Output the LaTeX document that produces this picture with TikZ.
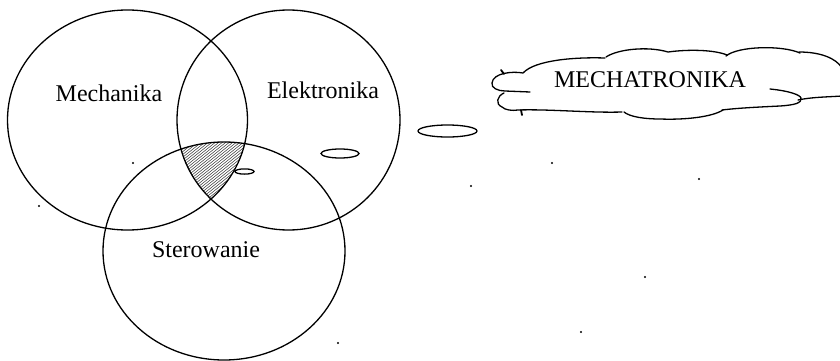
\documentclass[tikz,border=0pt]{standalone}
\usepackage{fontspec}
\setmainfont{Liberation Serif}
\tikzset{
  venn/.style={draw=black, line width=1.3pt},
  bubble/.style={draw=black, line width=1.3pt},
  cloudline/.style={draw=black, line width=1.3pt, line cap=round},
  label/.style={font=\fontsize{24}{28}\selectfont, inner sep=0pt},
  hatch/.style={draw=black!75, line width=0.55pt},
  speck/.style={fill=black}
}
\begin{document}
\begin{tikzpicture}[x=1pt,y=-1pt]
\useasboundingbox (0,0) rectangle (840,361);
% Venn ellipses
\coordinate (cM) at (127.5,120);
\coordinate (cE) at (288.5,120);
\coordinate (cS) at (224,251);
% hatched common part
\begin{scope}
  \clip (cM) ellipse [x radius=120, y radius=110];
  \clip (cE) ellipse [x radius=111.5, y radius=110];
  \clip (cS) ellipse [x radius=121, y radius=109];
  \foreach \i in {100,103.5,...,300} {
    \draw[hatch] (\i,215) -- ++(100,-80);
  }
\end{scope}
\draw[venn] (cM) ellipse [x radius=120, y radius=110];
\draw[venn] (cE) ellipse [x radius=111.5, y radius=110];
\draw[venn] (cS) ellipse [x radius=121, y radius=109];
% labels
\node[label] (mech) at (109,93) {Mechanika};
\node[label] (elek) at (323,90) {Elektronika};
\node[label] (ster) at (206,250) {Sterowanie};
% thought bubbles
\draw[bubble] (244.5,171.5) ellipse [x radius=9.5, y radius=2.6];
\draw[bubble] (340,153.5) ellipse [x radius=19, y radius=4.5];
\draw[bubble] (447.5,131) ellipse [x radius=29.5, y radius=6];
% cloud
\node[label] (mecha) at (650,80) {MECHATRONIKA};
\draw[cloudline] (605,58) .. controls (575,57) and (535,60) .. (523,73)
  .. controls (512,71) and (493,73) .. (492,83)
  .. controls (491,88) and (498,91) .. (505,91) -- (530,92);
\draw[cloudline] (504,93) .. controls (497,96) and (495,104) .. (502,107)
  .. controls (505,110) and (512,111) .. (518,110)
  .. controls (550,109) and (590,113) .. (622,112);
\draw[cloudline] (606,57) .. controls (618,49) and (648,46) .. (668,52)
  .. controls (690,49) and (715,50) .. (727,55);
\draw[cloudline] (726,56) .. controls (738,46) and (782,45) .. (800,53);
\draw[cloudline] (799,52) .. controls (820,52) and (836,58) .. (842,68);
\draw[cloudline] (770,89) .. controls (790,91) and (800,95) .. (801,98)
  .. controls (802,103) and (795,105) .. (780,106)
  .. controls (760,107) and (738,108) .. (722,110);
\draw[cloudline] (798,100) .. controls (812,97) and (828,97) .. (842,96);
\draw[cloudline] (723,110) .. controls (712,117) and (685,120) .. (660,119)
  .. controls (645,119) and (630,117) .. (624,112);
% small tick marks on the cloud
\draw[line width=1.8pt, line cap=round] (501,70) -- (504,74);
\draw[line width=1.8pt, line cap=round] (521,110) -- (522,115);
% scan specks
\foreach \p in {(552,163),(471,186),(699,179),(645,277),(581,332),(133,163),(39,206),(338,343)}
  \fill[speck] \p circle (1.1);
\end{tikzpicture}
\end{document}
